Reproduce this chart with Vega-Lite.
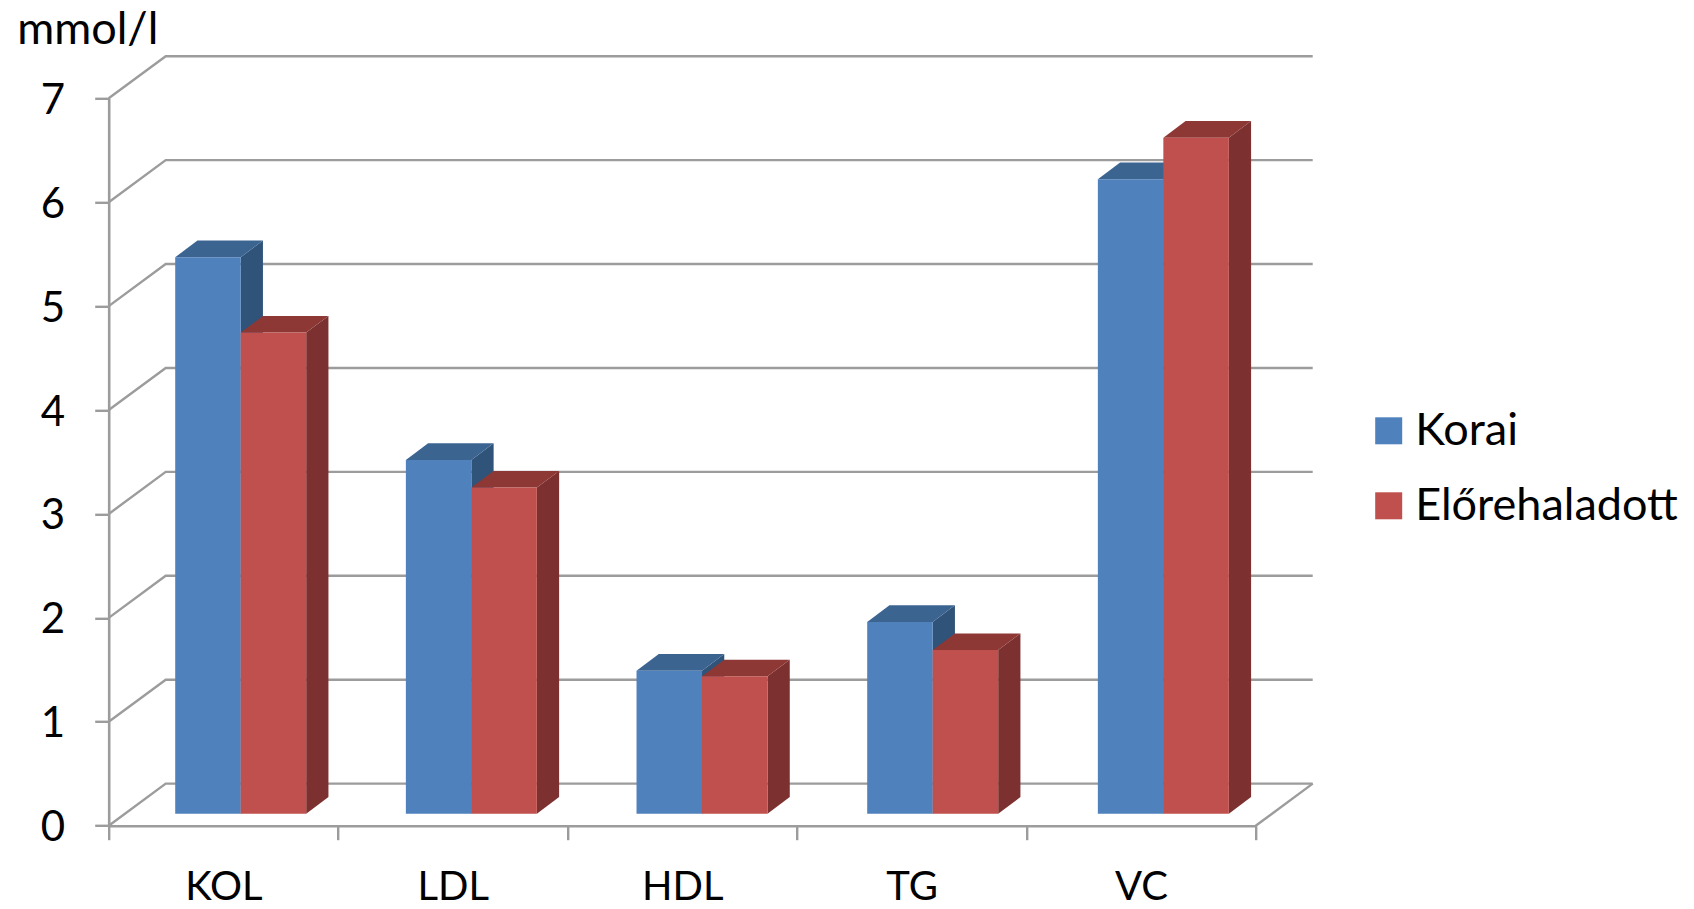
{
"$schema":"https://vega.github.io/schema/vega-lite/v6.json",
"autosize":{"type":"none"},
"padding":{"left":108.7,"top":98.3,"right":438.3,"bottom":83.3},
"width":1147,"height":727.4,
"background":"white",
"config":{"font":"Lato","view":{"stroke":null}},
"data":{"values":[
{"cat":"KOL","series":"Korai","value":5.355},
{"cat":"KOL","series":"Előrehaladott","value":4.63},
{"cat":"LDL","series":"Korai","value":3.404},
{"cat":"LDL","series":"Előrehaladott","value":3.138},
{"cat":"HDL","series":"Korai","value":1.376},
{"cat":"HDL","series":"Előrehaladott","value":1.322},
{"cat":"TG","series":"Korai","value":1.845},
{"cat":"TG","series":"Előrehaladott","value":1.575},
{"cat":"VC","series":"Korai","value":6.106},
{"cat":"VC","series":"Előrehaladott","value":6.506}
]},
"transform":[
{"calculate":"0.5754+1.0055*indexof(['KOL','LDL','HDL','TG','VC'],datum.cat)","as":"xc"},
{"calculate":"datum.xc+(datum.series=='Korai'?-0.2855:0)","as":"xl"},
{"calculate":"datum.xl+0.2855","as":"xr"},
{"calculate":"datum.value+0.1155","as":"top"}
],
"layer":[
{"data":{"values":[{"tick":0},{"tick":1},{"tick":2},{"tick":3},{"tick":4},{"tick":5},{"tick":6},{"tick":7}]},
 "transform":[
 {"calculate":"[0,0.2485,5.2485]","as":"px"},
 {"calculate":"[datum.tick,datum.tick+0.405,datum.tick+0.405]","as":"py"},
 {"flatten":["px","py"]}],
 "mark":{"type":"line","color":"#9c9c9c","strokeWidth":2.4},
 "encoding":{
  "x":{"field":"px","type":"quantitative","axis":null,"scale":{"domain":[0,5],"nice":false,"zero":false}},
  "y":{"field":"py","type":"quantitative","scale":{"domain":[0,7],"nice":false,"zero":false},
   "axis":{"values":[0,1,2,3,4,5,6,7],"grid":false,"domainColor":"#9c9c9c","domainWidth":2.6,"tickColor":"#9c9c9c","tickWidth":2.4,"tickSize":14,"labelFontSize":42,"labelColor":"black","labelPadding":30,"labelOffset":2,"labelFlush":false,"labelOverlap":false,"format":"d",
   "title":"mmol/l","titleFontSize":45,"titleFontWeight":"normal","titleColor":"black","titleAngle":0,"titleAlign":"left","titleBaseline":"alphabetic","titleX":-92,"titleY":-55}},
  "detail":{"field":"tick","type":"nominal"}}},
{"data":{"values":[{"edge":"floor"}]},
 "transform":[
 {"calculate":"[5,5.2485]","as":"px"},
 {"calculate":"[0,0.405]","as":"py"},
 {"flatten":["px","py"]}],
 "mark":{"type":"line","color":"#9c9c9c","strokeWidth":2.4},
 "encoding":{
  "x":{"field":"px","type":"quantitative","axis":null,"scale":{"domain":[0,5],"nice":false,"zero":false}},
  "y":{"field":"py","type":"quantitative"}}},
{"mark":{"type":"rule","opacity":0},
 "encoding":{
  "x":{"field":"cat","type":"nominal","sort":null,"scale":{"type":"band","paddingInner":0,"paddingOuter":0},
   "axis":{"title":null,"tickBand":"extent","labelAngle":0,"labelFontSize":40,"labelColor":"black","labelPadding":28,"domainColor":"#9c9c9c","domainWidth":2.6,"tickColor":"#9c9c9c","tickWidth":2.4,"tickSize":14}}}},
{"transform":[{"filter":"datum.series=='Korai'"},
 {"calculate":"[datum.xr,datum.xr+0.097]","as":"px"},
 {"calculate":"[datum.top,datum.top+0.16]","as":"py"},
 {"calculate":"[0.1155,0.2755]","as":"pb"},
 {"flatten":["px","py","pb"]}],
 "mark":{"type":"area","color":"#2f5379"},
 "encoding":{
  "x":{"field":"px","type":"quantitative","axis":null,"scale":{"domain":[0,5],"nice":false,"zero":false}},
  "y":{"field":"py","type":"quantitative"},"y2":{"field":"pb"},"detail":{"field":"cat","type":"nominal"}}},
{"transform":[{"filter":"datum.series=='Korai'"},
 {"calculate":"[datum.xl,datum.xl+0.097,datum.xr,datum.xr+0.097]","as":"px"},
 {"calculate":"[datum.top,datum.top+0.16,datum.top+0.16,datum.top+0.16]","as":"py"},
 {"calculate":"[datum.top,datum.top,datum.top,datum.top+0.16]","as":"pb"},
 {"flatten":["px","py","pb"]}],
 "mark":{"type":"area","color":"#3c6491"},
 "encoding":{
  "x":{"field":"px","type":"quantitative","axis":null,"scale":{"domain":[0,5],"nice":false,"zero":false}},
  "y":{"field":"py","type":"quantitative"},"y2":{"field":"pb"},"detail":{"field":"cat","type":"nominal"}}},
{"transform":[{"filter":"datum.series!='Korai'"},
 {"calculate":"[datum.xr,datum.xr+0.097]","as":"px"},
 {"calculate":"[datum.top,datum.top+0.16]","as":"py"},
 {"calculate":"[0.1155,0.2755]","as":"pb"},
 {"flatten":["px","py","pb"]}],
 "mark":{"type":"area","color":"#7c3130"},
 "encoding":{
  "x":{"field":"px","type":"quantitative","axis":null,"scale":{"domain":[0,5],"nice":false,"zero":false}},
  "y":{"field":"py","type":"quantitative"},"y2":{"field":"pb"},"detail":{"field":"cat","type":"nominal"}}},
{"transform":[{"filter":"datum.series!='Korai'"},
 {"calculate":"[datum.xl,datum.xl+0.097,datum.xr,datum.xr+0.097]","as":"px"},
 {"calculate":"[datum.top,datum.top+0.16,datum.top+0.16,datum.top+0.16]","as":"py"},
 {"calculate":"[datum.top,datum.top,datum.top,datum.top+0.16]","as":"pb"},
 {"flatten":["px","py","pb"]}],
 "mark":{"type":"area","color":"#8e3836"},
 "encoding":{
  "x":{"field":"px","type":"quantitative","axis":null,"scale":{"domain":[0,5],"nice":false,"zero":false}},
  "y":{"field":"py","type":"quantitative"},"y2":{"field":"pb"},"detail":{"field":"cat","type":"nominal"}}},
{"mark":{"type":"rect"},
 "encoding":{
  "x":{"field":"xl","type":"quantitative","axis":null,"scale":{"domain":[0,5],"nice":false,"zero":false}},
  "x2":{"field":"xr"},
  "y":{"field":"top","type":"quantitative"},
  "y2":{"datum":0.1155},
  "color":{"field":"series","type":"nominal","sort":null,
   "scale":{"domain":["Korai","Előrehaladott"],"range":["#4f81bd","#c0504d"]},
   "legend":{"title":null,"orient":"none","legendX":1257.5,"legendY":310,"symbolType":"square","symbolSize":729,"symbolStrokeWidth":0,"symbolOpacity":1,"labelFontSize":45,"labelColor":"black","labelOffset":4,"rowPadding":29,"padding":0,"labelLimit":400}}}}
],
"resolve":{"scale":{"x":"independent"},"axis":{"x":"independent"}}
}
